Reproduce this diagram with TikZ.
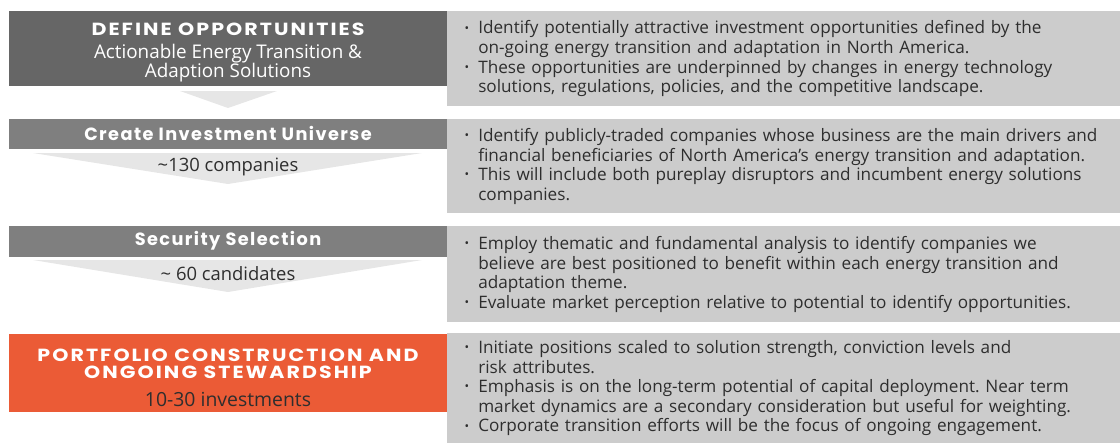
\documentclass[tikz,border=0pt]{standalone}
\usepackage{fontspec}
\setmainfont{Open Sans}
\newfontfamily\headfont[LetterSpace=8]{Poppins}
\newfontfamily\capsfont[LetterSpace=10]{Poppins}
\usepackage{xcolor}
\usetikzlibrary{positioning}

\definecolor{stepdark}{HTML}{666666}
\definecolor{stepgray}{HTML}{7F7F7F}
\definecolor{steporange}{HTML}{EB5B36}
\definecolor{notegray}{HTML}{CCCCCC}
\definecolor{funnel}{HTML}{E6E6E6}
\definecolor{inkgray}{HTML}{2E2E2E}

\frenchspacing
% one bullet paragraph, hanging indent for the wrapped part
\newcommand{\bitem}[1]{\leftskip=0.45cm\hangindent=0.325cm\hangafter=1\noindent
  \makebox[0.325cm][l]{\hspace{-0.5pt}\raisebox{0.2ex}{\scalebox{0.7}{\textbullet}}}#1\par}
% wide caps title
\newcommand{\capstitle}[1]{\scalebox{1.17}[1]{#1}}

\begin{document}
\begin{tikzpicture}[x=0.025cm,y=-0.025cm,
    stepbox/.style={anchor=north west,inner sep=0pt,minimum width=10.95cm},
    notebox/.style={anchor=north west,fill=notegray,inner sep=0pt,
      minimum width=16.825cm,text width=16.825cm,align=left,text=inkgray,
      font=\fontsize{12.2}{13.9}\selectfont},
    capstxt/.style={inner sep=0pt,text=white,align=center,font=\capsfont\bfseries\fontsize{12.5}{12.2}\selectfont},
    headtxt/.style={inner sep=0pt,text=white,font=\headfont\bfseries\fontsize{12.6}{12.6}\selectfont},
    subtxt/.style={inner sep=0pt,align=center,font=\fontsize{13.1}{13.5}\selectfont}]
    \useasboundingbox (0,0) rectangle (1120,443);

    % left column
    \node[stepbox,fill=stepdark,minimum height=1.875cm] (s1) at (9,11) {};
    \node[stepbox,fill=stepgray,minimum height=0.75cm] (s2) at (9,119) {};
    \node[stepbox,fill=stepgray,minimum height=0.775cm] (s3) at (9,226) {};
    \node[stepbox,fill=steporange,minimum height=1.95cm] (s4) at (9,334) {};

    \node[capstxt] (t1) at (228,29) {\capstitle{DEFINE OPPORTUNITIES}};
    \node[subtxt,text=white,font=\fontsize{13.4}{13.5}\selectfont] (t1b) at (228,63.5)
      {Actionable Energy Transition \&\\ Adaption Solutions};
    \node[headtxt] (t2) at (228,133) {Create Investment Universe};
    \node[headtxt] (t3) at (228,241) {Security Selection};
    \node[capstxt] (t4) at (228,364) {\capstitle{PORTFOLIO CONSTRUCTION AND}\\ \capstitle{ONGOING STEWARDSHIP}};
    \node[subtxt,text=inkgray,font=\fontsize{13.8}{13.8}\selectfont] (t4b) at (228,399) {10-30 investments};

    % funnels
    \fill[funnel] (180,91) -- (277,91) -- (228,108) -- cycle;
    \fill[funnel] (33,153) -- (422,153) -- (228,184) -- cycle;
    \fill[funnel] (33,260) -- (422,260) -- (228,292) -- cycle;
    \node[subtxt,text=inkgray] (n2) at (228,167) {\textasciitilde130 companies};
    \node[subtxt,text=inkgray] (n3) at (228,274) {\textasciitilde{} 60 candidates};

    % right column
    \node[notebox,minimum height=2.375cm] (d1) at (447,11)
      {\bitem{Identify potentially attractive investment opportunities defined by the\newline
        on-going energy transition and adaptation in North America.}
       \bitem{These opportunities are underpinned by changes in energy technology\newline
        solutions, regulations, policies, and the competitive landscape.}};
    \node[notebox,minimum height=2.35cm] (d2) at (447,119)
      {\bitem{Identify publicly-traded companies whose business are the main drivers and\newline
        financial beneficiaries of North America’s energy transition and adaptation.}
       \bitem{This will include both pureplay disruptors and incumbent energy solutions\newline
        companies.}};
    \node[notebox,minimum height=2.4cm] (d3) at (447,226)
      {\bitem{Employ thematic and fundamental analysis to identify companies we\newline
        believe are best positioned to benefit within each energy transition and\newline
        adaptation theme.}
       \bitem{Evaluate market perception relative to potential to identify opportunities.}};
    \node[notebox,minimum height=2.75cm] (d4) at (447,333)
      {\bitem{Initiate positions scaled to solution strength, conviction levels and\newline
        risk attributes.}
       \bitem{Emphasis is on the long-term potential of capital deployment. Near term\newline
        market dynamics are a secondary consideration but useful for weighting.}
       \bitem{Corporate transition efforts will be the focus of ongoing engagement.}};
\end{tikzpicture}
\end{document}
